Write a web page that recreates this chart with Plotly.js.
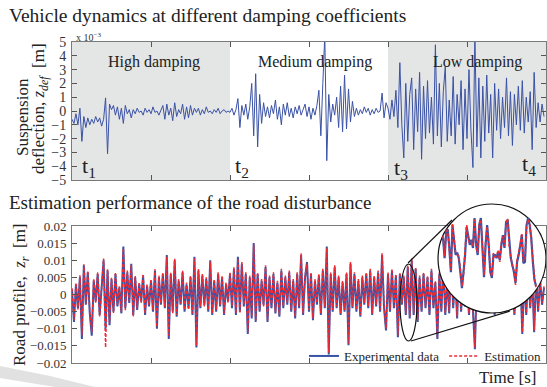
<!DOCTYPE html>
<html>
<head>
<meta charset="utf-8">
<script src="https://cdn.plot.ly/plotly-3.0.1.min.js"></script>
<style>html,body{margin:0;padding:0;background:#fff}#chart{width:547px;height:387px}</style>
</head>
<body>
<div id="chart"></div>
<script>
// ---- Top panel: suspension deflection (x 10^-3 m), sampled every 0.25 s ----
const highDamping = [-0.6,-0.9,-0.2,-1.0,0.2,-2.2,-0.4,-1.2,
 -0.5,-1.0,-0.6,-0.9,-0.4,-0.8,-0.5,-1.1,-0.6,
 0.95,-3.1,0.5,
 0.1,0.4,-0.3,0.3,-0.6,0.2,-0.9,0.4,-0.2,0.1,-0.5,
 0.1,-0.2,0.2,-0.1,0.0,-0.3,0.2,-0.1,0.1,-0.2,0.3,-0.1,0.0,-0.3,0.1,
 0.4,-0.6,0.5,-0.3,0.2,-0.7,0.6,-0.4,0.1,-0.2,0.5,-0.6,0.3,-0.5,0.4,-0.3,0.2,
 -0.1,0.2,-0.3,0.1,-0.2,0.3,-0.1,0.0,-0.2,0.1,-0.1,0.2,-0.2,0.0,0.1,-0.1,0.0];
const mediumDamping = [-0.1,0.2,-0.3,0.1,
 0.9,-1.2,0.4,
 -0.3,0.5,-0.6,0.3,
 2.0,-1.8,2.7,-2.6,1.2,
 -0.9,0.6,-0.4,0.3,
 -0.5,0.4,-0.2,0.8,-0.6,0.3,-1.0,0.5,-0.3,0.6,-0.4,0.2,-0.5,0.3,
 -0.2,0.4,-0.3,0.1,
 0.5,-0.4,0.3,-0.6,0.2,-0.3,0.4,
 1.5,-1.8,2.0,5.5,-3.6,
 1.2,-0.8,0.5,-0.3,
 1.0,-1.2,1.8,-1.5,2.6,-1.3,1.6,
 -0.8,0.7,-0.4,
 0.2,-0.3,0.1,-0.2,0.3,-0.1,0.2,-0.3,0.1,-0.2,0.2,-0.1,0.0,
 1.3,-0.5,0.6];
const lowDamping = [0.2,-0.6,0.8,-0.4,
 1.5,-1.2,3.5,-1.0,
 -3.4,2.0,-2.2,1.2,
 2.4,-2.8,1.6,-1.5,
 2.8,-3.5,1.8,-2.0,
 2.2,-1.6,1.0,-2.4,
 4.8,-1.8,2.0,-2.6,
 1.4,3.2,-2.2,0.8,
 -1.8,2.5,-2.4,1.2,
 -1.0,2.2,-2.8,1.6,
 -2.0,3.0,-1.4,-4.1,
 5.5,-2.6,2.4,-3.4,
 1.8,-2.2,2.6,-1.6,
 1.2,-3.4,2.0,-1.4,
 1.6,-2.0,1.0,-1.2,
 2.4,-1.8,1.4,-2.5,
 1.2,-1.0,1.8,-1.4,
 2.2,-1.6,1.0,-0.8,
 1.4,-2.8,2.8,-1.2,
 0.6,-0.8,0.5,-0.4];
const topStep = 0.25;

// ---- Bottom panel: road profile (mm), sampled every 0.25 s ----
const experimentalData = [1.5,-8.0,3.0,-4.0,5.0,-13.0,8.5,-3.0,6.5,-5.5,
 -12.0,4.0,-2.0,6.0,-6.0,3.0,10.0,-10.0,7.0,-9.0,
 4.5,-5.0,6.0,-3.5,2.0,-5.5,14.0,-4.0,6.5,-2.5,
 9.0,-6.0,5.0,-4.5,3.0,-2.0,5.5,-6.0,2.5,-3.5,
 4.0,-5.0,7.0,-10.0,5.0,-3.0,6.0,-4.0,11.5,-13.0,
 6.0,-5.0,10.0,-6.5,4.0,-3.0,6.5,-5.0,3.0,-4.0,
 5.0,-6.0,11.0,-15.5,7.0,-4.0,5.5,-3.0,4.5,-5.0,
 10.0,-6.0,4.0,-5.0,6.0,-3.5,5.0,-6.0,3.0,-2.0,
 6.0,-4.0,7.5,-6.0,11.0,-5.0,9.0,-3.5,6.0,-11.5,
 5.0,-7.0,15.0,-8.0,6.0,-5.0,4.0,-3.0,8.0,-8.0,
 5.0,-4.0,6.0,-5.5,3.5,-6.5,7.0,-4.0,5.0,-3.0,
 6.5,-5.0,4.0,-7.0,6.0,-4.0,11.5,-6.0,5.0,9.5,
 -5.0,6.0,-7.5,4.0,-3.0,5.5,-6.0,7.0,-4.0,14.0,
 -17.5,6.0,-5.0,8.0,-4.0,5.0,-6.0,3.5,-5.0,6.0,
 -14.8,9.0,-4.0,6.0,-5.0,4.0,-6.5,5.0,-3.0,6.0,
 -4.0,7.0,-6.0,5.0,-3.5,6.5,-5.0,11.5,-4.0,-10.5,
 6.0,-5.0,7.0,-4.0,5.5,-12.5,6.0,-3.0,5.0,-6.0,
 8.0,-7.0,10.0,-6.0,7.5,-8.0,5.0,-5.0,6.0,-4.0,
 5.0,-6.0,7.0,-4.0,3.5,-13.0,6.0,-5.0,9.0,-6.0,
 4.0,-5.5,10.0,-4.0,6.0,-7.0,9.5,-5.0,4.0,-3.5,
 5.0,-6.0,4.0,-4.5,-16.0,6.0,-5.0,7.0,-3.0,5.0,
 -4.0,6.0,-5.0,3.0,-6.0,5.5,-4.0,6.0,-3.5,4.5,
 -5.0,7.0,-4.0,5.0,-6.0,4.0,-3.5,6.0,-11.5,5.0,
 -6.0,7.0,-4.0,5.5,-11.0,6.0,-5.0,4.0,-3.0,2.0];
const estimationData = [1.8,-7.5,3.4,-4.4,5.6,-12.0,8.8,-2.6,6.9,-5.0,
 -11.0,4.6,-2.4,6.5,-6.4,3.6,10.5,-15.5,7.4,-8.4,
 4.9,-5.4,6.4,-3.0,2.5,-5.0,13.5,-4.6,7.0,-2.0,
 8.6,-6.5,5.4,-4.0,3.6,-2.5,6.0,-5.5,3.0,-3.0,
 4.5,-4.6,7.4,-9.5,5.5,-2.5,6.4,-3.6,11.0,-12.0,
 6.4,-5.5,10.4,-6.0,4.5,-2.6,7.0,-4.5,3.5,-4.5,
 5.5,-5.5,10.5,-15.0,7.4,-3.5,6.0,-3.5,5.0,-4.5,
 9.6,-5.5,4.5,-4.5,6.5,-3.0,5.5,-5.5,3.5,-2.5,
 6.5,-3.5,8.0,-5.5,10.5,-5.5,9.5,-3.0,6.5,-11.0,
 5.5,-6.5,14.5,-7.5,6.5,-4.5,4.5,-3.5,8.5,-7.5,
 5.5,-3.5,6.5,-5.0,4.0,-6.0,7.5,-3.5,5.5,-2.5,
 7.0,-4.5,4.5,-6.5,6.5,-3.5,12.0,-5.5,5.5,9.0,
 -4.5,6.5,-7.0,4.5,-2.5,6.0,-5.5,7.5,-3.5,13.5,
 -17.0,6.5,-4.5,8.5,-3.5,5.5,-5.5,4.0,-4.5,6.5,
 -14.3,9.5,-3.5,6.5,-4.5,4.5,-6.0,5.5,-2.5,6.5,
 -3.5,7.5,-5.5,5.5,-3.0,7.0,-4.5,12.0,-3.5,-10.0,
 6.5,-4.5,7.5,-3.5,6.0,-12.0,6.5,-2.5,5.5,-5.5,
 8.5,-6.5,10.5,-5.5,8.0,-7.5,5.5,-4.5,6.5,-3.5,
 5.5,-5.5,7.5,-3.5,4.0,-12.5,6.5,-4.5,9.5,-5.5,
 4.5,-5.0,10.5,-3.5,6.5,-6.5,10.0,-4.5,4.5,-3.0,
 5.5,-5.5,4.5,-4.0,-15.5,6.5,-4.5,7.5,-2.5,5.5,
 -3.5,6.5,-4.5,3.5,-5.5,6.0,-3.5,6.5,-3.0,5.0,
 -4.5,7.5,-3.5,5.5,-5.5,4.5,-3.0,6.5,-11.0,5.5,
 -5.5,7.5,-3.5,6.0,-10.5,6.5,-4.5,4.5,-2.5,2.5];
const bottomStep = 0.25;

// ---- Zoomed inset (mm) ----
const insetExperimental = [5.3,0.1,6.8,7.5,2.7,-3.5,8.6,5.3,0.9,1.5,
 0.1,-3.5,-7.6,-3.5,0.9,8.1,5.3,3.5,4.8,2.7,
 10.4,3.5,0.9,8.6,10.4,0.9,-4.8,3.5,8.6,3.5,
 -3.5,-5.0,0.9,0.9,0.1,1.7,-0.4,3.5,6.0,2.7,
 9.4,9.9,3.5,0.1,-1.7,-3.5,-6.3,-0.9,0.9,4.0,
 6.0,-1.2,-0.9,8.6,10.4,8.6,5.3,-0.9,-5.5,-7.0];
const insetEstimation = [5.8,0.6,7.2,7.0,2.2,-3.0,9.0,4.8,1.4,1.0,
 0.6,-3.0,-7.2,-4.0,1.4,8.6,4.8,4.0,4.3,3.2,
 10.0,3.0,1.4,9.0,10.0,1.4,-4.3,4.0,8.2,3.0,
 -3.0,-4.6,1.4,0.4,0.6,2.2,-0.9,4.0,5.6,3.2,
 9.0,10.3,3.0,0.6,-2.2,-3.0,-6.8,-0.4,1.4,3.5,
 6.5,-0.7,-0.4,8.2,10.0,9.0,4.8,-0.4,-5.0,-7.4];
const insetStart = 41.65, insetStep = 0.035;

// ---- Tick labels ----
const topTicks = [-5,-4,-3,-2,-1,0,1,2,3,4,5];
const bottomTickVals = [-20,-15,-10,-5,0,5,10,15,20];
const bottomTickText = ['\u22120.02','\u22120.015','\u22120.01','\u22120.005','0','0.005','0.01','0.015','0.02'];
const regionLabels = ['High damping','Medium damping','Low damping'];

const topValues = highDamping.concat(mediumDamping, lowDamping);
const topTime = topValues.map((_, i) => i * topStep);
const bottomTime = experimentalData.map((_, i) => i * bottomStep);
const insetTime = insetExperimental.map((_, i) => insetStart + i * insetStep);

const FONT = 'Liberation Serif, Times New Roman, serif';
const BLUE = '#3a52a6', RED = '#ee2a33';

const data = [
  {x: topTime, y: topValues, xaxis: 'x', yaxis: 'y', type: 'scatter', mode: 'lines',
   line: {color: BLUE, width: 1}, showlegend: false, hoverinfo: 'skip'},
  {x: bottomTime, y: experimentalData, xaxis: 'x2', yaxis: 'y2', type: 'scatter', mode: 'lines',
   name: 'Experimental data', line: {color: BLUE, width: 2}},
  {x: bottomTime, y: estimationData, xaxis: 'x2', yaxis: 'y2', type: 'scatter', mode: 'lines',
   name: 'Estimation', line: {color: RED, width: 1.5, dash: '3px,2px'}},
  {x: insetTime, y: insetExperimental, xaxis: 'x3', yaxis: 'y3', type: 'scatter', mode: 'lines',
   line: {color: BLUE, width: 2.2}, showlegend: false},
  {x: insetTime, y: insetEstimation, xaxis: 'x3', yaxis: 'y3', type: 'scatter', mode: 'lines',
   line: {color: RED, width: 1.6, dash: '3px,2px'}, showlegend: false}
];

const frame = {showline: true, linecolor: '#7a7a7a', linewidth: 1, mirror: 'ticks', ticks: 'inside',
  ticklen: 5, tickcolor: '#555', zeroline: false, showgrid: false};

// pixel -> paper helpers (plot area: x 72..546, y 42..363)
const px = v => (v - 72) / 474;
const py = v => (363 - v) / 321;

function note(text, x, y, size, extra) {
  return Object.assign({text: text, xref: 'paper', yref: 'paper', x: px(x), y: py(y),
    xanchor: 'center', yanchor: 'middle', showarrow: false,
    font: {family: FONT, size: size, color: '#222'}}, extra || {});
}

const layout = {
  width: 547, height: 387,
  margin: {l: 72, r: 1, t: 42, b: 24},
  paper_bgcolor: '#fff', plot_bgcolor: 'rgba(0,0,0,0)',
  font: {family: FONT, color: '#222'},
  xaxis: Object.assign({}, frame, {domain: [0, 1], range: [0, 60], dtick: 10, tick0: 0, showticklabels: false, anchor: 'y'}),
  yaxis: Object.assign({}, frame, {domain: [0.5701, 1], range: [-5, 5], tickvals: topTicks, anchor: 'x',
    tickfont: {family: FONT, size: 14, color: '#333'}, ticklabelstandoff: 2}),
  xaxis2: Object.assign({}, frame, {domain: [0, 1], range: [0, 60], dtick: 10, tick0: 0, showticklabels: false, anchor: 'y2'}),
  yaxis2: Object.assign({}, frame, {domain: [0, 0.4268], range: [-20, 20], tickvals: bottomTickVals, ticktext: bottomTickText,
    anchor: 'x2', tickfont: {family: FONT, size: 13, color: '#333'}, ticklabelstandoff: 2}),
  xaxis3: {domain: [0.768, 1], range: [41.4946, 43.937], visible: false, anchor: 'y3'},
  yaxis3: {domain: [0.15, 0.5], range: [-14.475, 14.385], visible: false, anchor: 'x3'},
  showlegend: true,
  legend: {orientation: 'h', x: px(304), xanchor: 'left', y: py(356), yanchor: 'middle',
    bgcolor: 'rgba(0,0,0,0)', font: {family: FONT, size: 13, color: '#222'}, itemwidth: 30, tracegroupgap: 0},
  shapes: [
    {type: 'rect', xref: 'x', yref: 'paper', x0: 0, x1: 20, y0: 0.5701, y1: 1, fillcolor: '#e4e5e5', line: {width: 0}, layer: 'below'},
    {type: 'rect', xref: 'x', yref: 'paper', x0: 40, x1: 60, y0: 0.5701, y1: 1, fillcolor: '#e4e5e5', line: {width: 0}, layer: 'below'},
    {type: 'circle', xref: 'x3', yref: 'y3', x0: 41.539, x1: 43.937, y0: -14, y1: 14, fillcolor: '#fff', line: {color: '#111', width: 1.2}, layer: 'below'},
    {type: 'circle', xref: 'paper', yref: 'paper', x0: px(400), x1: px(417), y0: py(341), y1: py(264), line: {color: '#111', width: 1.2}, layer: 'above'},
    {type: 'line', xref: 'paper', yref: 'paper', x0: px(408), y0: py(263), x1: px(452), y1: py(220), line: {color: '#111', width: 1.2}, layer: 'above'},
    {type: 'line', xref: 'paper', yref: 'paper', x0: px(411), y0: py(341), x1: px(510), y1: py(311), line: {color: '#111', width: 1.2}, layer: 'above'},
    {type: 'path', xref: 'paper', yref: 'paper',
     path: 'M ' + px(0) + ' ' + py(366) + ' L ' + px(50) + ' ' + py(376) + ' L ' + px(95) + ' ' + py(387) +
           ' L ' + px(55) + ' ' + py(387) + ' L ' + px(0) + ' ' + py(378) + ' Z',
     fillcolor: 'rgba(205,205,205,0.6)', line: {width: 0}, layer: 'below'}
  ],
  annotations: [
    note('Vehicle dynamics at different damping coefficients', 7, 16, 19.5, {xanchor: 'left'}),
    note('Estimation performance of the road disturbance', 7, 203, 19, {xanchor: 'left'}),
    note('x 10<sup>\u22123</sup>', 74, 37, 10, {xanchor: 'left', font: {family: FONT, size: 10, color: '#333'}}),
    note(regionLabels[0], 154, 62, 16),
    note(regionLabels[1], 315, 62, 16),
    note(regionLabels[2], 477, 62, 16),
    note('t<sub>1</sub>', 80, 167, 22, {xanchor: 'left'}),
    note('t<sub>2</sub>', 233, 167, 22, {xanchor: 'left'}),
    note('t<sub>3</sub>', 392, 169, 22, {xanchor: 'left'}),
    note('t<sub>4</sub>', 520, 165, 22, {xanchor: 'left'}),
    note('Suspension', 22, 117, 17, {textangle: -90}),
    note('deflection, <i>z<sub>def</sub></i>  [m]', 40, 109, 17, {textangle: -90}),
    note('Road profile,  <i>z<sub>r</sub></i>  [m]', 21, 295, 17, {textangle: -90}),
    note('Time [s]', 538, 378, 17, {xanchor: 'right'})
  ]
};

Plotly.newPlot('chart', data, layout, {displayModeBar: false, staticPlot: true});
</script>
</body>
</html>
